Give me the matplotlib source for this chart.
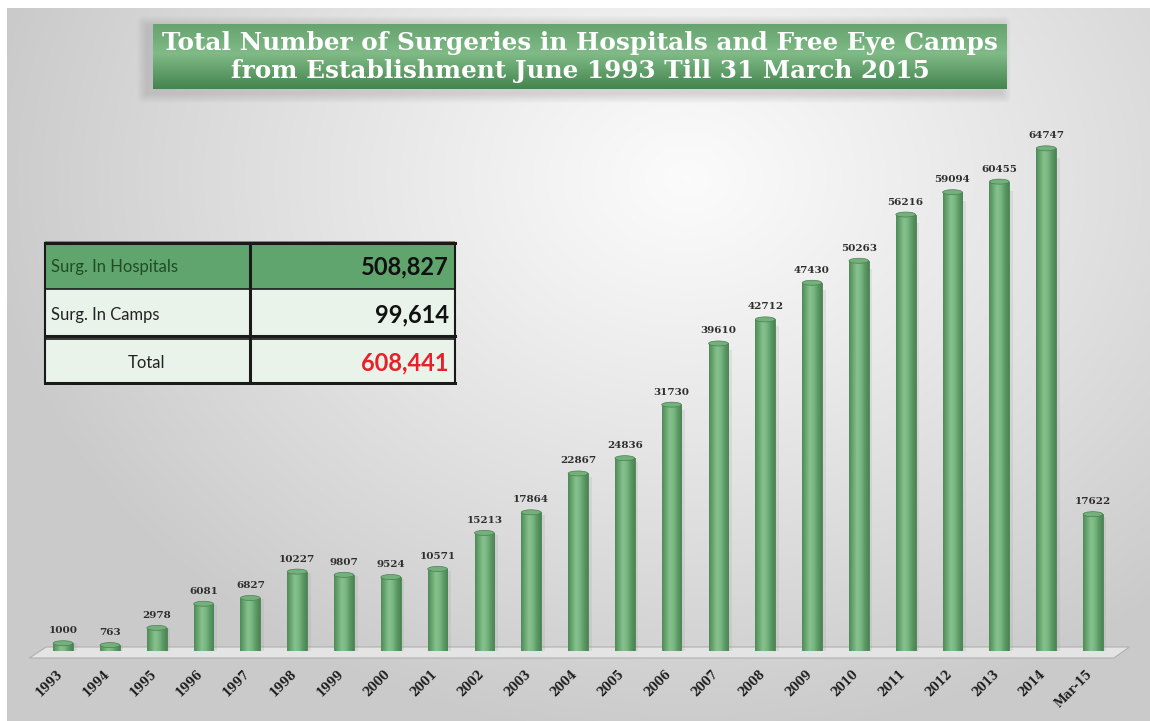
import numpy as np
import matplotlib
matplotlib.use("Agg")
import matplotlib.pyplot as plt
import matplotlib.transforms as mtransforms
from matplotlib.patches import Rectangle, Polygon, Ellipse, FancyBboxPatch
from matplotlib.colors import LinearSegmentedColormap

# ---------------- data ----------------
years = ["1993", "1994", "1995", "1996", "1997", "1998", "1999", "2000", "2001",
         "2002", "2003", "2004", "2005", "2006", "2007", "2008", "2009", "2010",
         "2011", "2012", "2013", "2014", "Mar-15"]
surgeries = [1000, 763, 2978, 6081, 6827, 10227, 9807, 9524, 10571, 15213, 17864,
             22867, 24836, 31730, 39610, 42712, 47430, 50263, 56216, 59094, 60455,
             64747, 17622]
title_lines = ["Total Number of Surgeries in Hospitals and Free Eye Camps",
               "from Establishment June 1993 Till 31 March 2015"]
table_labels = ["Surg. In Hospitals", "Surg. In Camps", "Total"]
table_values = ["508,827", "99,614", "608,441"]

W, H = 1150, 721
fig = plt.figure(figsize=(W / 100, H / 100), dpi=100)
fig.patch.set_facecolor("white")

def fbox(x0, y0, x1, y1):
    """pixel box (top-left origin) -> figure rect"""
    return [x0 / W, 1 - y1 / H, (x1 - x0) / W, (y1 - y0) / H]

# ---------------- background gradient ----------------
bg = fig.add_axes(fbox(7, 8, W, H), zorder=0)
bg.set_axis_off()
yy, xx = np.mgrid[0:H - 8, 0:W - 7]
cx, cy = 680, 170
d = np.sqrt(((xx - cx) / 700.0) ** 2 + ((yy - cy) / 560.0) ** 2)
d = np.clip(d, 0, 1)
val = 0.985 - 0.19 * d ** 1.1
img = np.dstack([val, val, val])
bg.imshow(img, aspect="auto", extent=(0, W - 7, H - 8, 0))
bg.set_xlim(0, W - 7)
bg.set_ylim(H - 8, 0)
# soft glow/shadow around the title box (pixel coords relative to bg axes)
for k in range(1, 7):
    bg.add_patch(FancyBboxPatch((146 - 7 + 1 - k * 0.6, 24 - 8 + 2 - k * 0.6),
                                854 + k * 1.2, 65 + 2 + k * 1.2,
                                boxstyle=f"round,pad={k},rounding_size={k + 1}",
                                facecolor="#7a7a7a", alpha=0.045, lw=0))

# ---------------- title box ----------------
tb = fig.add_axes(fbox(153, 24, 1007, 89), zorder=2)
tb.set_axis_off()
tb.set_xlim(0, 1)
tb.set_ylim(0, 1)
g = np.linspace(0, 1, 100)
top = np.array([0.40, 0.64, 0.43])
cen = np.array([0.50, 0.73, 0.53])
bot = np.array([0.27, 0.52, 0.31])
rows = []
for t in g:
    if t < 0.45:
        c = top + (cen - top) * (t / 0.45)
    else:
        c = cen + (bot - cen) * ((t - 0.45) / 0.55)
    rows.append(c)
grad = np.array(rows)[:, None, :].repeat(4, axis=1)
tb.imshow(np.clip(grad, 0, 1), aspect="auto", extent=(0, 1, 0, 1), origin="upper",
          interpolation="bilinear")
for i, line in enumerate(title_lines):
    tb.text(0.5, 0.71 - i * 0.44, line, ha="center", va="center", color="white",
            fontsize=17.8, fontweight="bold", family="DejaVu Serif")

# ---------------- bar chart ----------------
ax = fig.add_axes(fbox(35, 92, 1121, 651), zorder=1)
ax.patch.set_alpha(0)
x = np.arange(len(years))
ax.set_xlim(-0.6, len(years) - 0.4)
ax.set_ylim(0, 72000)
for s in ax.spines.values():
    s.set_visible(False)
ax.set_yticks([])

# floor
unit = 72000 / 559.0  # data units per pixel
floor = Polygon([(-0.72, -7 * unit), (-0.36, 4 * unit), (len(years) - 0.22, 4 * unit),
                 (len(years) - 0.55, -7 * unit)], closed=True,
                facecolor="#e4e4e4", edgecolor="#b0b0b0", lw=0.8, clip_on=False, zorder=1)
ax.add_patch(floor)

bw = 0.42
bar_cmap = LinearSegmentedColormap.from_list(
    "cyl", ["#4f8a58", "#6aa872", "#88c18f", "#79b681", "#5c9a65", "#4a8453"])
cyl = np.linspace(0, 1, 64)[None, :]
bars = ax.bar(x, surgeries, width=bw, color="#6aa872", edgecolor="#4a8052",
              linewidth=0.6, zorder=3)
for b, v in zip(bars, surgeries):
    im = ax.imshow(cyl, cmap=bar_cmap, aspect="auto",
                   extent=(b.get_x(), b.get_x() + b.get_width(), 0, max(v, 1)),
                   zorder=3.5, interpolation="bilinear")
    im.set_clip_path(b)
    # soft shadow to the right
    ax.add_patch(Rectangle((b.get_x() + b.get_width(), 0), 0.08, v * 0.98,
                           facecolor="#9a9a9a", alpha=0.18, lw=0, zorder=2))
    # cylinder cap
    ax.add_patch(Ellipse((b.get_x() + b.get_width() / 2, v), bw, 5 * unit,
                         facecolor="#74b07c", edgecolor="#4a8052", lw=0.5, zorder=4))
    ax.text(b.get_x() + b.get_width() / 2, v + 8 * unit, f"{v}", ha="center",
            va="bottom", fontsize=7.5, fontweight="bold", family="DejaVu Serif",
            color="#2e2e2e", zorder=5)

ax.set_xticks(x)
ax.set_xticklabels(years, rotation=45, ha="right", rotation_mode="anchor",
                   fontsize=8.3, fontweight="bold", family="DejaVu Serif",
                   color="#1e1e1e")
ax.tick_params(axis="x", length=0, pad=12)
offset = mtransforms.ScaledTranslation(-7 / 100, 0, fig.dpi_scale_trans)
for lab in ax.get_xticklabels():
    lab.set_transform(lab.get_transform() + offset)

# ---------------- summary table ----------------
ta = fig.add_axes(fbox(43, 241, 457, 385), zorder=3)
ta.set_axis_off()
ta.set_xlim(0, 414)
ta.set_ylim(144, 0)
row_h = [0, 48, 96, 144]
fills = ["#5fa56d", "#e9f3ea", "#e9f3ea"]
for r in range(3):
    ta.add_patch(Rectangle((2, row_h[r]), 410, row_h[r + 1] - row_h[r],
                           facecolor=fills[r], edgecolor="none", zorder=1))
lw_thick = 2.2
ta.plot([2, 412], [2, 2], color="#1a1a1a", lw=lw_thick, zorder=3)
ta.plot([2, 412], [48, 48], color="#1a1a1a", lw=1.2, zorder=3)
ta.plot([2, 412], [95, 95], color="#1a1a1a", lw=lw_thick, zorder=3)
ta.plot([2, 412], [98, 98], color="#1a1a1a", lw=1.2, zorder=3)
ta.plot([2, 412], [142, 142], color="#1a1a1a", lw=lw_thick, zorder=3)
ta.plot([2, 2], [2, 142], color="#1a1a1a", lw=1.5, zorder=3)
ta.plot([412, 412], [2, 142], color="#1a1a1a", lw=1.5, zorder=3)
ta.plot([207, 207], [2, 142], color="#1a1a1a", lw=lw_thick, zorder=3)
label_colors = ["#1f4d25", "#222222", "#222222"]
value_colors = ["#111111", "#111111", "#e8202a"]
for r in range(3):
    yc = (row_h[r] + row_h[r + 1]) / 2 + 2
    if r < 2:
        ta.text(8, yc, table_labels[r], ha="left", va="center", fontsize=12,
                family="Lato", color=label_colors[r], zorder=4)
    else:
        ta.text(104, yc, table_labels[r], ha="center", va="center", fontsize=12,
                family="Lato", color=label_colors[r], zorder=4)
    ta.text(406, yc, table_values[r], ha="right", va="center", fontsize=17,
            family="Lato", fontweight="bold", color=value_colors[r], zorder=4)

fig.savefig("out.png", dpi=100)
